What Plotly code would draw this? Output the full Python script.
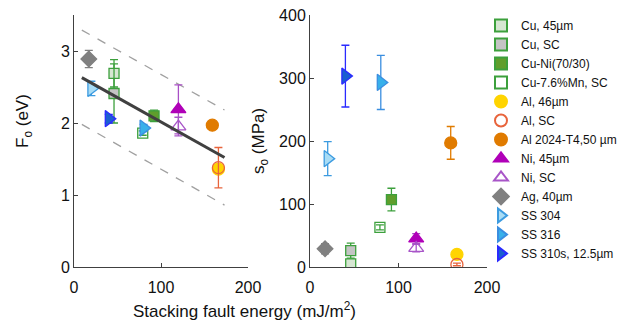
import plotly.graph_objects as go

# ---------------- data ----------------
names = ["Cu, 45µm", "Cu, SC", "Cu-Ni(70/30)", "Cu-7.6%Mn, SC", "Al, 46µm", "Al, SC",
         "Al 2024-T4,50 µm", "Ni, 45µm", "Ni, SC", "Ag, 40µm", "SS 304", "SS 316",
         "SS 310s, 12.5µm"]
sfe = [46, 46, 92, 79, 166, 166, 159, 120, 120, 17, 20, 80, 40]
F0 = [2.69, 2.41, 2.10, 1.86, 1.36, 1.38, 1.97, 2.19, 1.95, 2.89, 2.48, 1.93, 2.06]
F0_err = [0.19, 0.41, 0.08, 0.03, 0.04, 0.28, 0.05, 0.34, 0.13, 0.12, 0.10, 0.05, 0.06]
s0 = [5, 26, 107, 63, 20, 4, 197, 45, 30, 29, 172, 293, 303]
s0_err = [4, 12, 18, 4, 2, 2, 26, 8, 6, 8, 27, 43, 49]

fit_x = [9, 173]
fit_y = [2.63, 1.52]
upper_y = [3.29, 2.18]
lower_y = [1.98, 0.86]

# ---------------- styles ----------------
green = "#3ca03c"
styles = [
    dict(symbol="square", fill="#d6e6d2", edge=green, err=green, size=10),
    dict(symbol="square", fill="#c4c4c4", edge=green, err=green, size=10),
    dict(symbol="square", fill="#5f9e2c", edge=green, err=green, size=10),
    dict(symbol="square-open", fill=green, edge=green, err=green, size=10),
    dict(symbol="circle", fill="#ffd400", edge="#ffd400", err="#f2c500", size=12),
    dict(symbol="circle-open", fill="#e8643c", edge="#e8643c", err="#e8643c", size=12),
    dict(symbol="circle", fill="#e07b00", edge="#e07b00", err="#e07b00", size=12),
    dict(symbol="triangle-up", fill="#b000b8", edge="#b000b8", err="#a94fc6", size=13),
    dict(symbol="triangle-up-open", fill="#a855c8", edge="#a855c8", err="#a855c8", size=13),
    dict(symbol="diamond", fill="#808080", edge="#808080", err="#808080", size=12),
    dict(symbol="triangle-right", fill="#a8dcf5", edge="#3c9be0", err="#3c9be0", size=14),
    dict(symbol="triangle-right", fill="#38b0ea", edge="#3a8ee0", err="#3a8ee0", size=14),
    dict(symbol="triangle-right", fill="#1a5fd0", edge="#2a2aff", err="#2a2aff", size=14),
]

fig = go.Figure()

# fit band (left panel)
fig.add_trace(go.Scatter(x=fit_x, y=upper_y, mode="lines", showlegend=False,
                         line=dict(color="#a0a0a0", width=1.3, dash="dash"), xaxis="x", yaxis="y"))
fig.add_trace(go.Scatter(x=fit_x, y=lower_y, mode="lines", showlegend=False,
                         line=dict(color="#a0a0a0", width=1.3, dash="dash"), xaxis="x", yaxis="y"))

for i, n in enumerate(names):
    st = styles[i]
    mk = dict(symbol=st["symbol"], color=st["fill"], size=st["size"],
              line=dict(color=st["edge"], width=1.3))
    fig.add_trace(go.Scatter(
        x=[sfe[i]], y=[F0[i]], mode="markers", name=n, legendgroup=n, showlegend=True,
        marker=mk, xaxis="x", yaxis="y",
        error_y=dict(type="data", array=[F0_err[i]], color=st["err"], thickness=1.3, width=4)))
    fig.add_trace(go.Scatter(
        x=[sfe[i]], y=[s0[i]], mode="markers", name=n, legendgroup=n, showlegend=False,
        marker=mk, xaxis="x2", yaxis="y2",
        error_y=dict(type="data", array=[s0_err[i]], color=st["err"], thickness=1.3, width=4)))

fig.add_trace(go.Scatter(x=fit_x, y=fit_y, mode="lines", showlegend=False,
                         line=dict(color="#404040", width=3), xaxis="x", yaxis="y"))

W, H = 634, 328
ydom = [1 - 267 / H, 1 - 15 / H]
font = "Liberation Sans, Arial, sans-serif"
axis_common = dict(showline=True, linecolor="#404040", linewidth=1, ticks="inside",
                   ticklen=4, tickcolor="#404040", showgrid=False, zeroline=False,
                   tickfont=dict(size=16, color="#111"), mirror=False, automargin=False)

fig.update_layout(
    width=W, height=H, margin=dict(l=0, r=0, t=0, b=0, autoexpand=False),
    paper_bgcolor="white", plot_bgcolor="white",
    font=dict(family=font, color="#111"),
    xaxis=dict(domain=[74 / W, 248 / W], range=[0, 200], tickvals=[0, 100, 200], anchor="y",
               ticklabelstandoff=6, **axis_common),
    yaxis=dict(domain=ydom, range=[0, 3.5], tickvals=[0, 1, 2, 3], anchor="x", **axis_common),
    xaxis2=dict(domain=[310 / W, 487 / W], range=[0, 200], tickvals=[0, 100, 200], anchor="y2",
                ticklabelstandoff=6, **axis_common),
    yaxis2=dict(domain=ydom, range=[0, 400], tickvals=[0, 100, 200, 300, 400], anchor="x2",
                **axis_common),
    legend=dict(x=481 / W, y=1 - 11 / H, xanchor="left", yanchor="top",
                font=dict(size=12, color="#111"), bgcolor="rgba(0,0,0,0)",
                tracegroupgap=0, itemsizing="constant"),
    annotations=[
        dict(text="Stacking fault energy (mJ/m<sup>2</sup>)", x=244 / W, y=1 - 310 / H,
             xref="paper", yref="paper", xanchor="center", yanchor="middle",
             showarrow=False, font=dict(size=17)),
        dict(text="F<sub>o</sub> (eV)", x=24 / W, y=1 - 121 / H, xref="paper", yref="paper",
             xanchor="center", yanchor="middle",
             showarrow=False, textangle=-90, font=dict(size=17)),
        dict(text="s<sub>o</sub> (MPa)", x=260 / W, y=1 - 141 / H, xref="paper", yref="paper",
             xanchor="center", yanchor="middle",
             showarrow=False, textangle=-90, font=dict(size=17)),
    ],
)

fig.write_html("out.html")
